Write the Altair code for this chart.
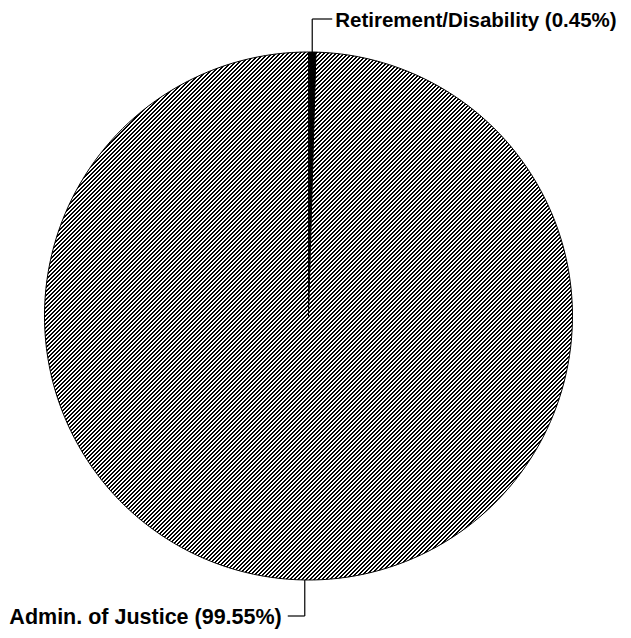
import altair as alt
import pandas as pd

# ---- data ----
categories = ["Retirement/Disability", "Admin. of Justice"]
shares = [0.45, 99.55]
labels = ["Retirement/Disability (0.45%)", "Admin. of Justice (99.55%)"]
slice_order = [1, 2]

df = pd.DataFrame({"category": categories, "share": shares,
                   "label": labels, "ord": slice_order})

# ---- layout ----
W, H = 615, 622
CX, CY, R = 300.5, 308, 264
TOP_LY, BOT_LY = 11, 608
FONT = "Liberation Sans"

# diagonal hatch as a striped linear gradient
N = 264
BLACK_FRAC = 0.55
stops = []
for i in range(N):
    a = round(i / N, 6)
    b = round((i + BLACK_FRAC) / N, 6)
    c = round((i + 1) / N, 6)
    stops += [{"offset": a, "color": "#000000"}, {"offset": b, "color": "#000000"},
              {"offset": b, "color": "#ffffff"}, {"offset": c, "color": "#ffffff"}]
hatch = {"gradient": "linear", "x1": 0, "y1": 0, "x2": 1, "y2": 1, "stops": stops}

pie = alt.Chart(df).mark_arc(radius=R, stroke="black", strokeWidth=1).encode(
    theta=alt.Theta("share:Q", stack=True),
    order=alt.Order("ord:Q"),
    fill=alt.condition(alt.datum.category == "Retirement/Disability",
                       alt.value("black"), alt.value(hatch)),
    x=alt.value(CX),
    y=alt.value(CY),
)

base = alt.Chart(df).transform_joinaggregate(
    total="sum(share)"
).transform_window(
    cum="sum(share)", sort=[alt.SortField("ord")], frame=[None, 0]
).transform_calculate(
    mid="2*PI*(datum.cum - datum.share/2)/datum.total"
).transform_calculate(
    ax=f"{CX} + {R}*sin(datum.mid)",
    ay=f"{CY} - {R}*cos(datum.mid)",
).transform_calculate(
    ly=f"datum.ay < {CY} ? {TOP_LY} : {BOT_LY}",
    hx=f"datum.ay < {CY} ? datum.ax + 20 : datum.ax - 17",
)

vrule = base.mark_rule(color="black", strokeWidth=1.2).encode(
    x=alt.X("ax:Q", scale=None, axis=None),
    y=alt.Y("ay:Q", scale=None, axis=None),
    y2="ly:Q",
)
hrule = base.mark_rule(color="black", strokeWidth=1.2).encode(
    x=alt.X("ax:Q", scale=None, axis=None),
    x2="hx:Q",
    y=alt.Y("ly:Q", scale=None, axis=None),
)

top_text = base.transform_filter(f"datum.ay < {CY}").mark_text(
    align="left", baseline="alphabetic", dx=3, dy=8,
    font=FONT, fontSize=20.5, fontWeight="bold", color="black",
).encode(
    x=alt.X("hx:Q", scale=None, axis=None),
    y=alt.Y("ly:Q", scale=None, axis=None),
    text="label:N",
)
bottom_text = base.transform_filter(f"datum.ay >= {CY}").mark_text(
    align="right", baseline="alphabetic", dx=-6, dy=8,
    font=FONT, fontSize=21.5, fontWeight="bold", color="black",
).encode(
    x=alt.X("hx:Q", scale=None, axis=None),
    y=alt.Y("ly:Q", scale=None, axis=None),
    text="label:N",
)

chart = alt.layer(pie, vrule, hrule, top_text, bottom_text).properties(
    width=W, height=H, padding=0, autosize="none", background="white"
).configure_view(stroke=None)

chart.save("out.html", embed_options={"renderer": "svg", "actions": False})
